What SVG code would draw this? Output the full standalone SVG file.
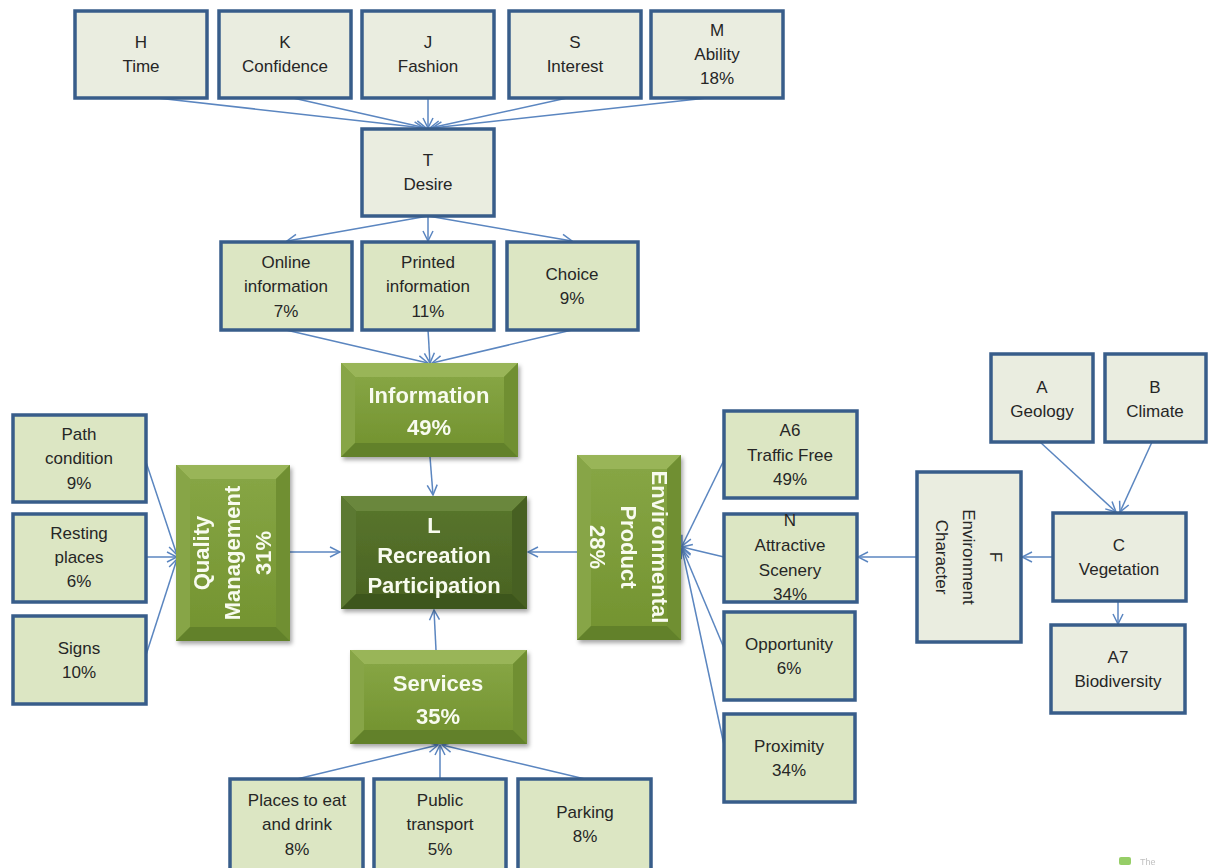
<svg xmlns="http://www.w3.org/2000/svg" width="1208" height="868" viewBox="0 0 1208 868">
  <defs>
    <style>
      .box { stroke: #385d8a; stroke-width: 3.5; }
      .grey { fill: #eaede0; }
      .lime { fill: #dce6c3; }
      .lbl { font-family: "Liberation Sans", Arial, sans-serif; font-size: 17px; fill: #262626; text-anchor: middle; }
      .big { font-family: "Liberation Sans", Arial, sans-serif; font-size: 22px; font-weight: bold; fill: #f8fbef; text-anchor: middle; }
      .conn line { stroke: #5b86c0; stroke-width: 1.5; fill: none; marker-end: url(#arr); }
      .g-top { fill: #99b558; }
      .g-left { fill: #87a546; }
      .g-right { fill: #6f8f31; }
      .g-bot { fill: #62812a; }
      .d-top { fill: #6a873c; }
      .d-left { fill: #5c7930; }
      .d-right { fill: #466121; }
      .d-bot { fill: #3e561c; }
    </style>
    <marker id="arr" viewBox="0 0 12 12" refX="11" refY="6" markerWidth="12" markerHeight="12" markerUnits="userSpaceOnUse" orient="auto">
      <path d="M1,1 L11,6 L1,11" fill="none" stroke="#5b86c0" stroke-width="1.5"/>
    </marker>
    <linearGradient id="gmid" x1="0" y1="0" x2="0" y2="1">
      <stop offset="0" stop-color="#86a544"/>
      <stop offset="1" stop-color="#749431"/>
    </linearGradient>
    <linearGradient id="gdark" x1="0" y1="0" x2="0" y2="1">
      <stop offset="0" stop-color="#57742c"/>
      <stop offset="1" stop-color="#4b6423"/>
    </linearGradient>
    <filter id="shadow" x="-10%" y="-10%" width="125%" height="125%">
      <feDropShadow dx="2" dy="3" stdDeviation="2" flood-color="#000" flood-opacity="0.35"/>
    </filter>
  </defs>

  <rect width="1208" height="868" fill="#ffffff"/>

  <!-- connectors -->
  <g id="connectors" class="conn">
    <line x1="157" y1="98" x2="424" y2="128"/>
    <line x1="293" y1="98" x2="426" y2="128"/>
    <line x1="428" y1="98" x2="428" y2="128"/>
    <line x1="567" y1="98" x2="430" y2="128"/>
    <line x1="707" y1="98" x2="432" y2="128"/>

    <line x1="428" y1="216" x2="287" y2="241"/>
    <line x1="428" y1="216" x2="428" y2="241"/>
    <line x1="428" y1="216" x2="572" y2="241"/>

    <line x1="286" y1="330" x2="428" y2="363"/>
    <line x1="428" y1="330" x2="430" y2="363"/>
    <line x1="572" y1="330" x2="432" y2="363"/>

    <line x1="430" y1="457" x2="433" y2="495"/>
    <line x1="290" y1="552" x2="340" y2="552"/>
    <line x1="577" y1="552" x2="528" y2="552"/>
    <line x1="436" y1="650" x2="434" y2="610"/>

    <line x1="146" y1="462" x2="177" y2="555"/>
    <line x1="146" y1="557" x2="177" y2="557"/>
    <line x1="146" y1="655" x2="177" y2="559"/>

    <line x1="724" y1="460" x2="682" y2="546"/>
    <line x1="724" y1="557" x2="682" y2="547"/>
    <line x1="724" y1="648" x2="682" y2="548"/>
    <line x1="724" y1="745" x2="682" y2="549"/>

    <line x1="917" y1="557" x2="858" y2="557"/>
    <line x1="1053" y1="557" x2="1022" y2="557"/>

    <line x1="1040" y1="442" x2="1116" y2="512"/>
    <line x1="1152" y1="442" x2="1120" y2="512"/>
    <line x1="1118" y1="601" x2="1118" y2="624"/>

    <line x1="297" y1="779" x2="438" y2="745"/>
    <line x1="440" y1="779" x2="440" y2="745"/>
    <line x1="585" y1="779" x2="442" y2="745"/>
  </g>

  <!-- top row -->
  <g id="node-h">
    <rect class="box grey" x="75" y="11" width="132" height="87"/>
    <text class="lbl" x="141" y="48">H</text>
    <text class="lbl" x="141" y="72">Time</text>
  </g>
  <g id="node-k">
    <rect class="box grey" x="219" y="11" width="132" height="87"/>
    <text class="lbl" x="285" y="48">K</text>
    <text class="lbl" x="285" y="72">Confidence</text>
  </g>
  <g id="node-j">
    <rect class="box grey" x="362" y="11" width="132" height="87"/>
    <text class="lbl" x="428" y="48">J</text>
    <text class="lbl" x="428" y="72">Fashion</text>
  </g>
  <g id="node-s">
    <rect class="box grey" x="509" y="11" width="132" height="87"/>
    <text class="lbl" x="575" y="48">S</text>
    <text class="lbl" x="575" y="72">Interest</text>
  </g>
  <g id="node-m">
    <rect class="box grey" x="651" y="11" width="132" height="87"/>
    <text class="lbl" x="717" y="36">M</text>
    <text class="lbl" x="717" y="60">Ability</text>
    <text class="lbl" x="717" y="84">18%</text>
  </g>

  <g id="node-t">
    <rect class="box grey" x="362" y="129" width="132" height="87"/>
    <text class="lbl" x="428" y="166">T</text>
    <text class="lbl" x="428" y="190">Desire</text>
  </g>

  <!-- information sources -->
  <g id="node-online">
    <rect class="box lime" x="221" y="242" width="131" height="88"/>
    <text class="lbl" x="286" y="268">Online</text>
    <text class="lbl" x="286" y="292">information</text>
    <text class="lbl" x="286" y="317">7%</text>
  </g>
  <g id="node-printed">
    <rect class="box lime" x="362" y="242" width="132" height="88"/>
    <text class="lbl" x="428" y="268">Printed</text>
    <text class="lbl" x="428" y="292">information</text>
    <text class="lbl" x="428" y="317">11%</text>
  </g>
  <g id="node-choice">
    <rect class="box lime" x="507" y="242" width="131" height="88"/>
    <text class="lbl" x="572" y="280">Choice</text>
    <text class="lbl" x="572" y="304">9%</text>
  </g>

  <!-- information (bevelled) -->
  <g id="node-information" filter="url(#shadow)">
    <rect x="341" y="363" width="177" height="94" fill="#7b9a3a"/>
    <polygon class="g-top" points="341,363 518,363 504,377 355,377"/>
    <polygon class="g-left" points="341,363 355,377 355,443 341,457"/>
    <polygon class="g-right" points="518,363 518,457 504,443 504,377"/>
    <polygon class="g-bot" points="341,457 355,443 504,443 518,457"/>
    <rect x="355" y="377" width="149" height="66" fill="url(#gmid)"/>
    <text class="big" x="429" y="403">Information</text>
    <text class="big" x="429" y="435">49%</text>
  </g>

  <!-- recreation participation (bevelled, dark) -->
  <g id="node-l" filter="url(#shadow)">
    <rect x="341" y="496" width="186" height="113" fill="#4e6a26"/>
    <polygon class="d-top" points="341,496 527,496 512,511 356,511"/>
    <polygon class="d-left" points="341,496 356,511 356,594 341,609"/>
    <polygon class="d-right" points="527,496 527,609 512,594 512,511"/>
    <polygon class="d-bot" points="341,609 356,594 512,594 527,609"/>
    <rect x="356" y="511" width="156" height="83" fill="url(#gdark)"/>
    <text class="big" x="434" y="533">L</text>
    <text class="big" x="434" y="563">Recreation</text>
    <text class="big" x="434" y="593">Participation</text>
  </g>

  <!-- quality management (bevelled, vertical text) -->
  <g id="node-quality" filter="url(#shadow)">
    <rect x="176" y="465" width="114" height="176" fill="#7b9a3a"/>
    <polygon class="g-top" points="176,465 290,465 276,479 190,479"/>
    <polygon class="g-left" points="176,465 190,479 190,627 176,641"/>
    <polygon class="g-right" points="290,465 290,641 276,627 276,479"/>
    <polygon class="g-bot" points="176,641 190,627 276,627 290,641"/>
    <rect x="190" y="479" width="86" height="148" fill="url(#gmid)"/>
    <g transform="translate(233,553) rotate(-90)">
      <text class="big" x="0" y="-24">Quality</text>
      <text class="big" x="0" y="7">Management</text>
      <text class="big" x="0" y="38">31%</text>
    </g>
  </g>

  <!-- environmental product (bevelled, vertical text) -->
  <g id="node-envproduct" filter="url(#shadow)">
    <rect x="577" y="455" width="104" height="185" fill="#7b9a3a"/>
    <polygon class="g-top" points="577,455 681,455 667,469 591,469"/>
    <polygon class="g-left" points="577,455 591,469 591,626 577,640"/>
    <polygon class="g-right" points="681,455 681,640 667,626 667,469"/>
    <polygon class="g-bot" points="577,640 591,626 667,626 681,640"/>
    <rect x="591" y="469" width="76" height="157" fill="url(#gmid)"/>
    <g transform="translate(629,547) rotate(90)">
      <text class="big" x="0" y="-23">Environmental</text>
      <text class="big" x="0" y="8">Product</text>
      <text class="big" x="0" y="39">28%</text>
    </g>
  </g>

  <!-- services (bevelled) -->
  <g id="node-services" filter="url(#shadow)">
    <rect x="350" y="650" width="177" height="94" fill="#7b9a3a"/>
    <polygon class="g-top" points="350,650 527,650 513,664 364,664"/>
    <polygon class="g-left" points="350,650 364,664 364,730 350,744"/>
    <polygon class="g-right" points="527,650 527,744 513,730 513,664"/>
    <polygon class="g-bot" points="350,744 364,730 513,730 527,744"/>
    <rect x="364" y="664" width="149" height="66" fill="url(#gmid)"/>
    <text class="big" x="438" y="691">Services</text>
    <text class="big" x="438" y="724">35%</text>
  </g>

  <!-- quality factors -->
  <g id="node-path">
    <rect class="box lime" x="13" y="415" width="133" height="87"/>
    <text class="lbl" x="79" y="440">Path</text>
    <text class="lbl" x="79" y="464">condition</text>
    <text class="lbl" x="79" y="489">9%</text>
  </g>
  <g id="node-resting">
    <rect class="box lime" x="13" y="514" width="133" height="88"/>
    <text class="lbl" x="79" y="539">Resting</text>
    <text class="lbl" x="79" y="563">places</text>
    <text class="lbl" x="79" y="587">6%</text>
  </g>
  <g id="node-signs">
    <rect class="box lime" x="13" y="616" width="133" height="88"/>
    <text class="lbl" x="79" y="654">Signs</text>
    <text class="lbl" x="79" y="678">10%</text>
  </g>

  <!-- environmental factors -->
  <g id="node-a6">
    <rect class="box lime" x="724" y="411" width="133" height="87"/>
    <text class="lbl" x="790" y="436">A6</text>
    <text class="lbl" x="790" y="461">Traffic Free</text>
    <text class="lbl" x="790" y="485">49%</text>
  </g>
  <g id="node-n">
    <rect class="box lime" x="724" y="514" width="133" height="88"/>
    <text class="lbl" x="790" y="526">N</text>
    <text class="lbl" x="790" y="551">Attractive</text>
    <text class="lbl" x="790" y="576">Scenery</text>
    <text class="lbl" x="790" y="600">34%</text>
  </g>
  <g id="node-opportunity">
    <rect class="box lime" x="724" y="612" width="131" height="88"/>
    <text class="lbl" x="789" y="650">Opportunity</text>
    <text class="lbl" x="789" y="674">6%</text>
  </g>
  <g id="node-proximity">
    <rect class="box lime" x="724" y="714" width="131" height="88"/>
    <text class="lbl" x="789" y="752">Proximity</text>
    <text class="lbl" x="789" y="776">34%</text>
  </g>

  <g id="node-f">
    <rect class="box grey" x="917" y="472" width="104" height="170"/>
    <g transform="translate(969,557) rotate(90)">
      <text class="lbl" x="0" y="-21">F</text>
      <text class="lbl" x="0" y="6">Environment</text>
      <text class="lbl" x="0" y="33">Character</text>
    </g>
  </g>
  <g id="node-a">
    <rect class="box grey" x="991" y="354" width="102" height="88"/>
    <text class="lbl" x="1042" y="393">A</text>
    <text class="lbl" x="1042" y="417">Geology</text>
  </g>
  <g id="node-b">
    <rect class="box grey" x="1105" y="354" width="101" height="88"/>
    <text class="lbl" x="1155" y="393">B</text>
    <text class="lbl" x="1155" y="417">Climate</text>
  </g>
  <g id="node-c">
    <rect class="box grey" x="1053" y="513" width="133" height="88"/>
    <text class="lbl" x="1119" y="551">C</text>
    <text class="lbl" x="1119" y="575">Vegetation</text>
  </g>
  <g id="node-a7">
    <rect class="box grey" x="1051" y="625" width="134" height="88"/>
    <text class="lbl" x="1118" y="663">A7</text>
    <text class="lbl" x="1118" y="687">Biodiversity</text>
  </g>

  <!-- service factors -->
  <g id="node-places">
    <rect class="box lime" x="230" y="779" width="133" height="100"/>
    <text class="lbl" x="297" y="806">Places to eat</text>
    <text class="lbl" x="297" y="830">and drink</text>
    <text class="lbl" x="297" y="855">8%</text>
  </g>
  <g id="node-public">
    <rect class="box lime" x="374" y="779" width="132" height="100"/>
    <text class="lbl" x="440" y="806">Public</text>
    <text class="lbl" x="440" y="830">transport</text>
    <text class="lbl" x="440" y="855">5%</text>
  </g>
  <g id="node-parking">
    <rect class="box lime" x="518" y="779" width="133" height="100"/>
    <text class="lbl" x="585" y="818">Parking</text>
    <text class="lbl" x="585" y="842">8%</text>
  </g>

  <!-- corner mark -->
  <g id="corner-mark" opacity="0.8">
    <rect x="1119" y="857" width="12" height="8" rx="2" fill="#7cc242"/>
    <text x="1140" y="865" font-family="Liberation Sans, Arial, sans-serif" font-size="9" fill="#b0b0b0">The</text>
  </g>
</svg>
